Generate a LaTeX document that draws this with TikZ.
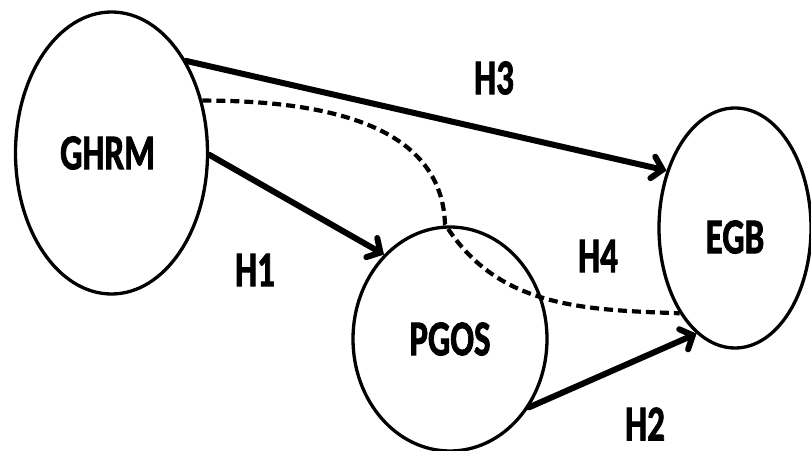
\documentclass[tikz,border=0pt]{standalone}
\usepackage{fontspec}
\usepackage{graphicx}
\setmainfont{Carlito}
\newfontfamily\heavyfont{Carlito}[UprightFont=*-Bold, FakeBold=2]
\usetikzlibrary{arrows.meta,shapes.geometric}
\newcommand\cond[1]{\scalebox{0.7}[1]{#1}}
\tikzset{
  construct/.style={draw, ellipse, line width=3.3pt, inner sep=0pt,
    font=\fontsize{50}{50}\heavyfont},
  hyplabel/.style={font=\fontsize{50}{50}\heavyfont, inner sep=0pt},
  path link/.style={line width=6pt, line cap=round,
    -{Straight Barb[length=10pt,width=22pt,line cap=round]}},
  indirect link/.style={line width=4.2pt, dash pattern=on 9pt off 5pt}
}
\begin{document}
\begin{tikzpicture}[x=1pt,y=1pt]
  \useasboundingbox (0,0) rectangle (811,450);

  % the three constructs
  \node[construct, minimum width=192pt, minimum height=282pt] (ghrm) at (111.5,297)
    {\hspace*{-8pt}\cond{GHRM}};
  \node[construct, minimum width=194pt, minimum height=224pt] (pgos) at (450,111)
    {\cond{PGOS}};
  \node[construct, minimum width=152pt, minimum height=240pt] (egb) at (735,222)
    {\raisebox{-9pt}[\height][\depth]{\cond{EGB}}};

  % direct paths
  \draw[path link] (ghrm.51) -- (egb.140.5);
  \draw[path link] (ghrm.-1) -- (pgos.128);
  \draw[path link] (pgos.-41.4) -- (egb.-110.8);

  % mediated path
  \coordinate (bend) at (445,226);
  \draw[indirect link] (ghrm.30) to[out=0,in=92] (bend)
        to[out=-58,in=178] (egb.-123.7);

  % hypothesis labels
  \node[hyplabel] (h3) at (494,372) {\cond{H3}};
  \node[hyplabel] (h1) at (255,180) {\cond{H1}};
  \node[hyplabel] (h4) at (598,194) {\cond{H4}};
  \node[hyplabel] (h2) at (645,26) {\cond{H2}};
\end{tikzpicture}
\end{document}
